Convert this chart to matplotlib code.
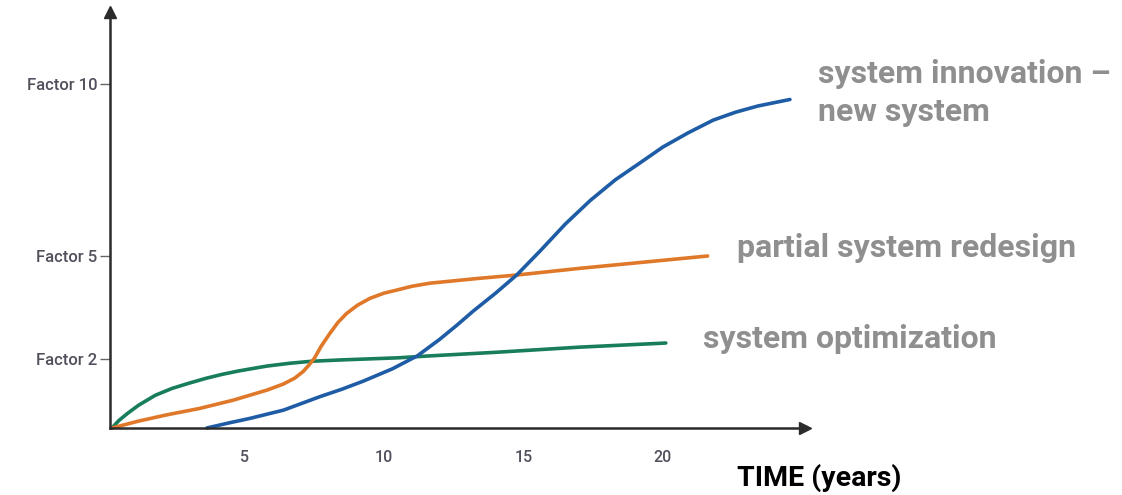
import numpy as np
import matplotlib
matplotlib.use("Agg")
import matplotlib.pyplot as plt

# curve readings: time in years, improvement factor
opt_years = [0.25, 0.5, 0.8, 1.2, 1.8, 2.4, 3.0, 3.6, 4.2, 4.8, 5.8, 6.6, 7.4,
             8.5, 9.5, 10.5, 11.5, 14.0, 17.0, 20.1]
opt_factor = [0.0, 0.22, 0.42, 0.66, 0.95, 1.15, 1.30, 1.44, 1.56, 1.66, 1.80, 1.88, 1.94,
              1.98, 2.01, 2.04, 2.09, 2.20, 2.35, 2.47]

redesign_years = [0.25, 1.2, 2.2, 3.4, 4.6, 5.8, 6.4, 6.8, 7.1, 7.3, 7.5, 7.75,
                  8.06, 8.35, 8.66, 9.05, 9.5, 10.0, 10.46, 11.0, 11.65, 13.4, 14.8, 17.0, 19.3, 21.6]
redesign_factor = [0.0, 0.20, 0.38, 0.57, 0.81, 1.10, 1.28, 1.45, 1.64, 1.82, 2.02, 2.38,
                   2.75, 3.07, 3.33, 3.57, 3.77, 3.92, 4.01, 4.12, 4.21, 4.35, 4.45, 4.64, 4.82, 5.00]

innov_years = [3.65, 4.4, 5.2, 6.4, 7.7, 8.5, 9.25, 10.3, 11.2, 12.0, 12.6, 13.2, 14.0,
               14.76, 15.6, 16.5, 17.4, 18.3, 19.2, 20.0, 20.9, 21.8, 22.6, 23.4, 24.55]
innov_factor = [0.0, 0.14, 0.28, 0.52, 0.91, 1.13, 1.36, 1.72, 2.10, 2.58, 2.98, 3.40, 3.92,
                4.45, 5.15, 5.93, 6.62, 7.22, 7.72, 8.17, 8.58, 8.95, 9.18, 9.36, 9.55]

y_ticks = [2, 5, 10]
y_labels = ["Factor 2", "Factor 5", "Factor 10"]
x_ticks = [5, 10, 15, 20]

blue = "#1f5ca6"
orange = "#e0782a"
green = "#187d5c"
grey_txt = "#8f8f8f"

W, H = 1122, 495
fig = plt.figure(figsize=(W / 100, H / 100), dpi=100)

# axes box: origin at px (110, 428), x arrow to px 805, y arrow to px 12
x0, y0, x1, y1 = 110, 428, 805, 12
ax = fig.add_axes([x0 / W, 1 - y0 / H, (x1 - x0) / W, (y0 - y1) / H])
ax.set_xlim((x0 - 105) / 27.9, (x1 - 105) / 27.9)
ax.set_ylim(0, (y0 - y1) / 34.4)

lw = 2.6
style = dict(lw=lw, solid_capstyle="round", solid_joinstyle="round", clip_on=False)
ax.plot(opt_years, opt_factor, color=green, **style)
ax.plot(redesign_years, redesign_factor, color=orange, **style)
ax.plot(innov_years, innov_factor, color=blue, **style)

for s in ["top", "right"]:
    ax.spines[s].set_visible(False)
for s in ["left", "bottom"]:
    ax.spines[s].set_color("#2b2b2b")
    ax.spines[s].set_linewidth(1.8)

# arrow heads on both axes
ax.plot(1, 0, marker=">", color="#2b2b2b", ms=9, transform=ax.transAxes, clip_on=False)
ax.plot(0, 1, marker="^", color="#2b2b2b", ms=9, transform=ax.transAxes, clip_on=False)

label_font = ["Roboto", "DejaVu Sans"]
ax.set_yticks(y_ticks)
ax.set_yticklabels(y_labels, family=label_font, fontsize=12, fontweight="medium", color="#50505c")
ax.tick_params(axis="y", length=7, width=1, color="#666666", pad=2)
ax.set_xticks(x_ticks)
ax.set_xticklabels([str(v) for v in x_ticks], family=label_font, fontsize=11.5,
                   fontweight="medium", color="#50505c")
ax.tick_params(axis="x", length=0, pad=16)

bold = dict(family="Roboto", fontweight="bold", color=grey_txt, fontsize=23, va="center", ha="left")
fig.text(818 / W, 1 - 74 / H, "system innovation –", **bold)
fig.text(818 / W, 1 - 112 / H, "new system", **bold)
fig.text(737 / W, 1 - 248 / H, "partial system redesign", **bold)
fig.text(703 / W, 1 - 339 / H, "system optimization", **bold)
fig.text(737 / W, 1 - 478 / H, "TIME (years)", family="Roboto", fontweight="bold",
         color="black", fontsize=20.5, va="center", ha="left")

fig.savefig("out.png", dpi=100)
